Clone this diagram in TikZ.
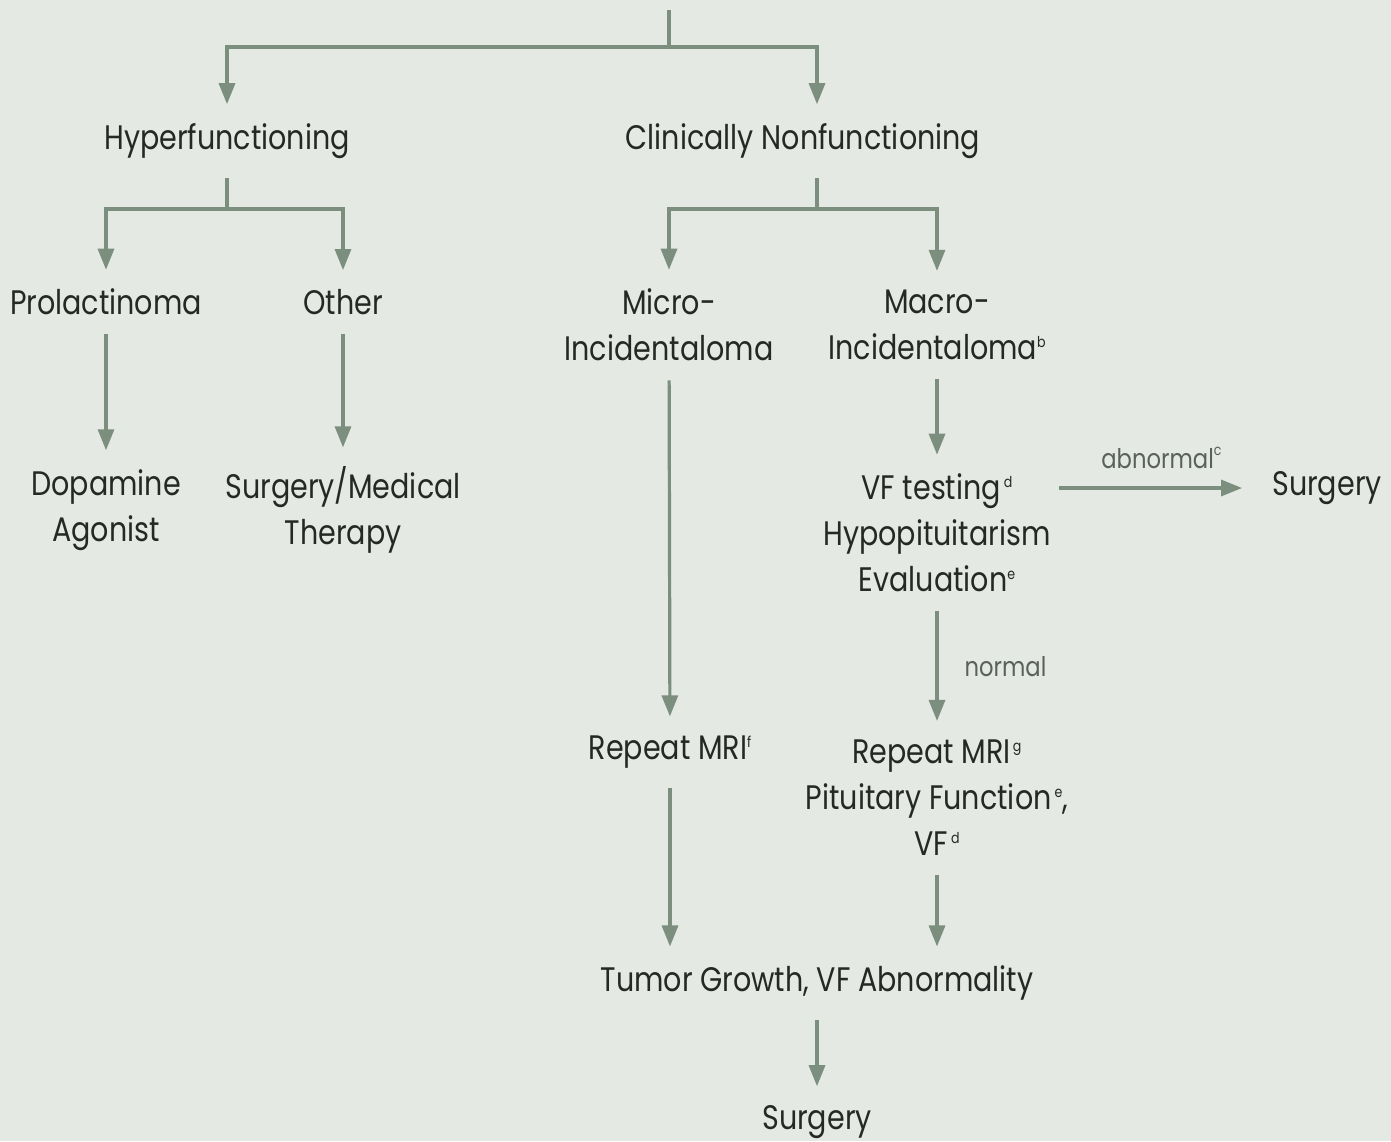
\documentclass[tikz,border=0pt]{standalone}
\usepackage{fontspec}
\setmainfont{Poppins}[FakeStretch=0.84]
\usetikzlibrary{arrows.meta}
\definecolor{bgcol}{RGB}{228,233,228}
\definecolor{linecol}{RGB}{124,142,126}
\definecolor{txtcol}{RGB}{38,40,38}
\definecolor{tagcol}{RGB}{90,96,90}
\newcommand{\supnote}[1]{{\fontsize{15}{15}\selectfont\raisebox{12.5pt}{#1}}}

\begin{document}
\begin{tikzpicture}[x=1pt, y=-1pt, inner sep=1pt, >={Triangle[width=16pt,length=21pt]},
   box/.style={inner xsep=8pt, inner ysep=19pt, align=center, text=txtcol, font=\fontsize{34}{46}\selectfont},
   tag/.style={inner sep=2pt, text=tagcol, font=\fontsize{27}{30}\selectfont},
   arr/.style={draw=linecol, line width=3.2pt}
   ]
   \fill[bgcol] (0,0) rectangle (1391,1141);
   \useasboundingbox (0,0) rectangle (1391,1141);

   % first level
   \path (227,141) node[box] (hyper) {Hyperfunctioning}
   (803,141) node[box] (nonfunc) {Clinically Nonfunctioning};
   % second level
   \path (106,302) node[box] (prolac) {Prolactinoma}
   (343,302) node[box] (other) {Other};
   \path (669,325) node[box] (micro) {Micro-\\Incidentaloma}
   (937,325) node[box] (macro) {Macro-\\Incidentaloma\supnote{b}};
   % third level
   \path (106,510) node[box] (dopa) {Dopamine\\Agonist}
   (343,510) node[box] (surgmed) {Surgery/Medical\\Therapy};
   \path (937,533) node[box] (vftest) {VF testing\hspace{3pt}\supnote{d}\\Hypopituitarism\\Evaluation\supnote{e}}
   (1327,488) node[box] (surgR) {Surgery};
   % follow-up
   \path (670,752) node[box] (mrif) {Repeat MRI\supnote{f}}
   (937,798) node[box] (mrig) {Repeat MRI\hspace{2pt}\supnote{g}\\Pituitary Function\hspace{3pt}\supnote{e},\\VF\hspace{3pt}\supnote{d}};
   \path (817,983) node[box] (tumor) {Tumor Growth, VF Abnormality}
   (817,1122) node[box] (surgB) {Surgery};

   \coordinate (root) at (669,10);
   \coordinate (split) at (669,47);
   \coordinate (hsplit) at (227,209);
   \coordinate (nsplit) at (817,209);

   \draw[arr] (root) -- (split);
   \draw[arr,->] (split) -| (hyper);
   \draw[arr,->] (split) -| ([xshift=14]nonfunc.north);

   \draw[arr] (hyper) -- (hsplit);
   \draw[arr,->] (hsplit) -| (prolac);
   \draw[arr,->] (hsplit) -| (other);

   \draw[arr] ([xshift=14]nonfunc.south) -- (nsplit);
   \draw[arr,->] (nsplit) -| (micro);
   \draw[arr,->] (nsplit) -| (macro);

   \draw[arr,->] (prolac) -- (dopa);
   \draw[arr,->] (other) -- (surgmed);
   \draw[arr,->] (micro) -- (mrif);
   \draw[arr,->] (macro) -- (vftest);

   \draw[arr,->, shorten >=22pt] (vftest.east |- surgR) -- node[tag, anchor=south, yshift=16pt] {abnormal\supnote{c}} (surgR);
   \draw[arr,->] (vftest) -- node[tag, anchor=west, xshift=24pt] {normal} (mrig);

   \draw[arr,->] (mrif) -- (mrif |- tumor.north);
   \draw[arr,->] (mrig) -- (mrig |- tumor.north);
   \draw[arr,->] (tumor) -- (surgB);

\end{tikzpicture}
\end{document}
